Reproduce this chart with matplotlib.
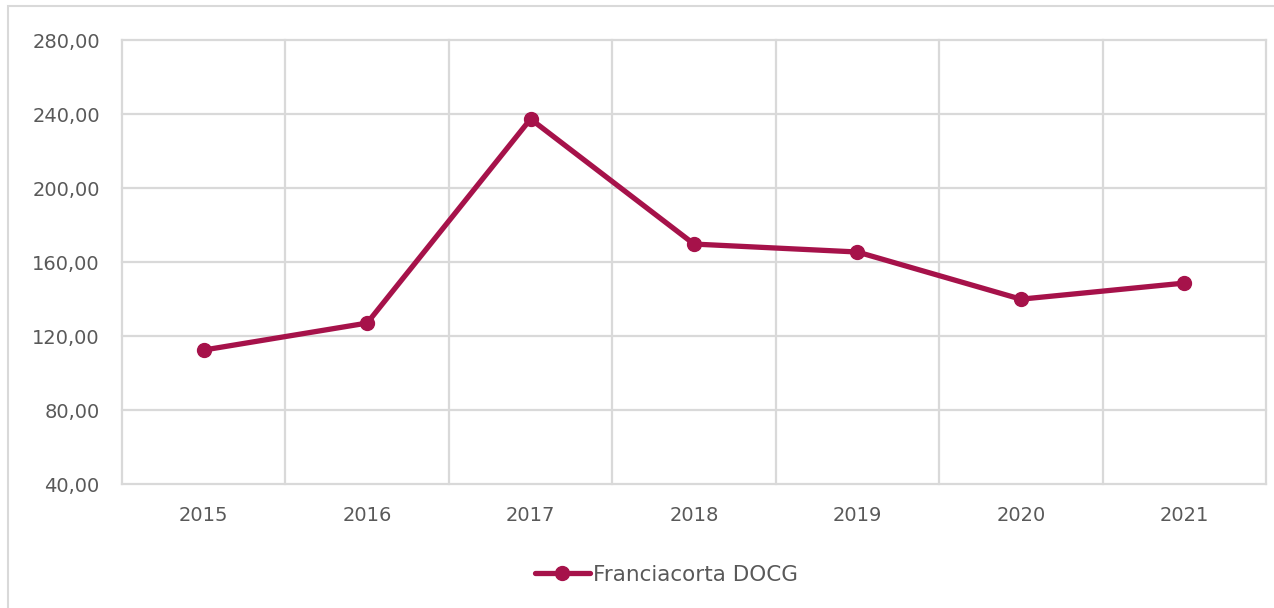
import matplotlib.pyplot as plt
from matplotlib.patches import Rectangle

years = ['2015', '2016', '2017', '2018', '2019', '2020', '2021']
prices = [112.4, 127.0, 237.3, 169.7, 165.4, 139.9, 148.6]
y_ticks = [40, 80, 120, 160, 200, 240, 280]

red = '#a6124a'
grey_txt = '#595959'
grid_c = '#d9d9d9'

plt.rcParams['font.family'] = ['DejaVu Sans']

fig = plt.figure(figsize=(12.74, 6.08), dpi=100)
# outer chart frame
fig.patches.append(Rectangle((8 / 1274, -0.05), 1.1, 1 - 6 / 608 + 0.05,
                             transform=fig.transFigure, fill=False,
                             edgecolor=grid_c, linewidth=1.5))

ax = fig.add_axes([122 / 1274, 1 - 484 / 608, (1266 - 122) / 1274, (484 - 40) / 608])
x = list(range(len(years)))
line, = ax.plot(x, prices, color=red, linewidth=3.8, marker='o', markersize=10,
                solid_capstyle='round', label='Franciacorta DOCG', zorder=3)

ax.set_xlim(-0.5, len(years) - 0.5)
ax.set_ylim(40, 280)
ax.set_yticks(y_ticks)
ax.set_yticklabels([f'{v},00' for v in y_ticks])
ax.set_xticks(x)
ax.set_xticklabels(years)

# gridlines: horizontal at ticks, vertical at category boundaries
for v in y_ticks:
    ax.axhline(v, color=grid_c, linewidth=1.6, clip_on=False, zorder=1)
for i in range(len(years) + 1):
    ax.axvline(i - 0.5, color=grid_c, linewidth=1.6, clip_on=False, zorder=1)

for s in ax.spines.values():
    s.set_visible(False)
ax.tick_params(axis='both', which='both', length=0, labelsize=14, colors=grey_txt)
ax.tick_params(axis='y', pad=16)
ax.tick_params(axis='x', pad=16)

fig.legend(handles=[line], loc='center', bbox_to_anchor=(666 / 1274, 1 - 575 / 608),
           frameon=False, fontsize=15.5, labelcolor=grey_txt, handlelength=2.6,
           handletextpad=0.1)

fig.savefig('out.png', dpi=100)
